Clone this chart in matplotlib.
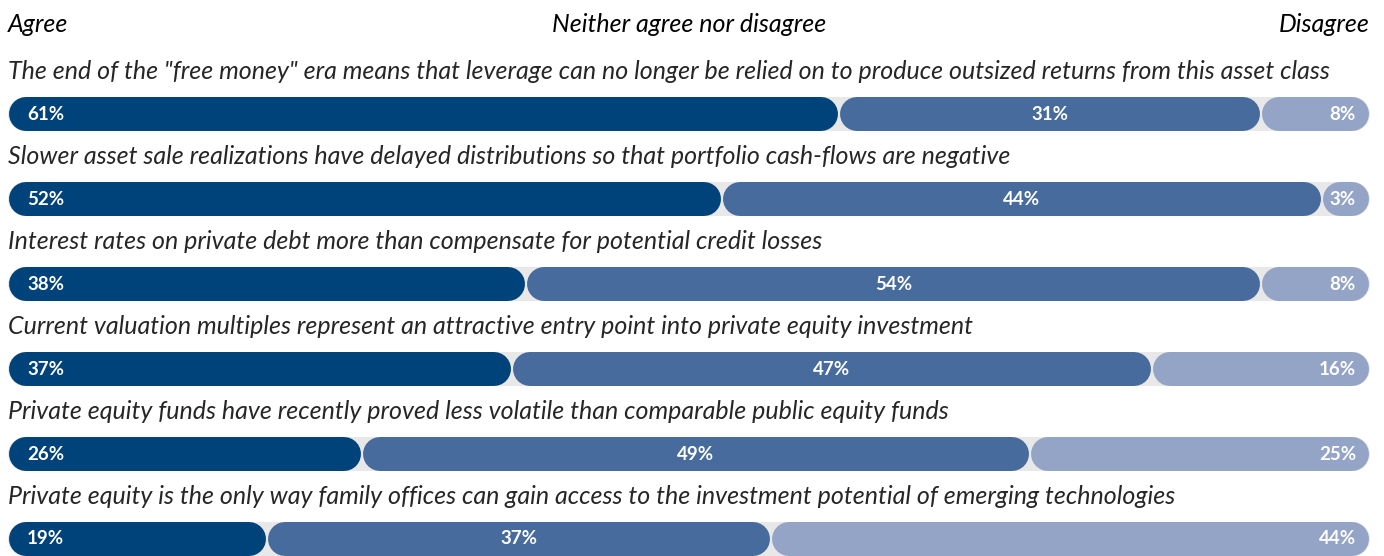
import matplotlib
matplotlib.use("Agg")
import matplotlib.pyplot as plt

questions = [
    'The end of the "free money" era means that leverage can no longer be relied on to produce outsized returns from this asset class',
    'Slower asset sale realizations have delayed distributions so that portfolio cash-flows are negative',
    'Interest rates on private debt more than compensate for potential credit losses',
    'Current valuation multiples represent an attractive entry point into private equity investment',
    'Private equity funds have recently proved less volatile than comparable public equity funds',
    'Private equity is the only way family offices can gain access to the investment potential of emerging technologies',
]
agree = [61, 52.4, 38, 37, 26, 19]
neither = [31, 44.1, 54, 47, 49, 37]
disagree = [8, 3.4, 8, 16, 25, 44]
headers = ["Agree", "Neither agree nor disagree", "Disagree"]

colors = ["#00427a", "#466b9c", "#93a4c6"]
track = "#e8e8e8"

W, H, DPI = 1384, 556, 100
fig = plt.figure(figsize=(W / DPI, H / DPI), dpi=DPI)
left_px, right_px = 8, 1370
ax = fig.add_axes([left_px / W, 0, (right_px - left_px) / W, 1])
row0_px, row_gap_px = 114, 85
ax.set_xlim(0, 100)
ax.set_ylim((H - row0_px) / row_gap_px, -row0_px / row_gap_px)
ax.axis("off")

bar_h_px = 34
lw_pt = bar_h_px * 72 / DPI
px_per_unit = (right_px - left_px) / 100
cap = (bar_h_px / 2) / px_per_unit
gap = 1.0 / px_per_unit

FAM = ["Lato", "DejaVu Sans"]

for i, q in enumerate(questions):
    ax.plot([cap, 100 - cap], [i, i], color=track, lw=lw_pt, solid_capstyle="round")
    vals = [agree[i], neither[i], disagree[i]]
    start = 0
    for k, v in enumerate(vals):
        end = start + v
        if k == 2:
            end = 100
        x0 = start + cap + gap
        x1 = end - cap - gap
        if x1 < x0:
            m = (x0 + x1) / 2
            x0 = x1 = m
        ax.plot([x0, x1], [i, i], color=colors[k], lw=lw_pt, solid_capstyle="round")
        lab = f"{round(v)}%"
        kw = dict(va="center", color="white", fontsize=13.5, fontweight="bold", family=FAM)
        if k == 0:
            ax.text(start + 19 / px_per_unit, i, lab, ha="left", **kw)
        elif k == 1:
            ax.text(start + v / 2, i, lab, ha="center", **kw)
        else:
            ax.text(100 - 14 / px_per_unit, i, lab, ha="right", **kw)
        start += v
    ax.text(0, i - 0.5, q, ha="left", va="center", fontsize=18, style="italic",
            fontweight="normal", family=FAM, color="#262626")

hy = (24 - row0_px) / row_gap_px
hkw = dict(va="center", fontsize=18, style="italic", family=FAM, color="black")
ax.text(0, hy, headers[0], ha="left", **hkw)
ax.text(50, hy, headers[1], ha="center", **hkw)
ax.text(100, hy, headers[2], ha="right", **hkw)

fig.savefig("out.png", dpi=DPI)
